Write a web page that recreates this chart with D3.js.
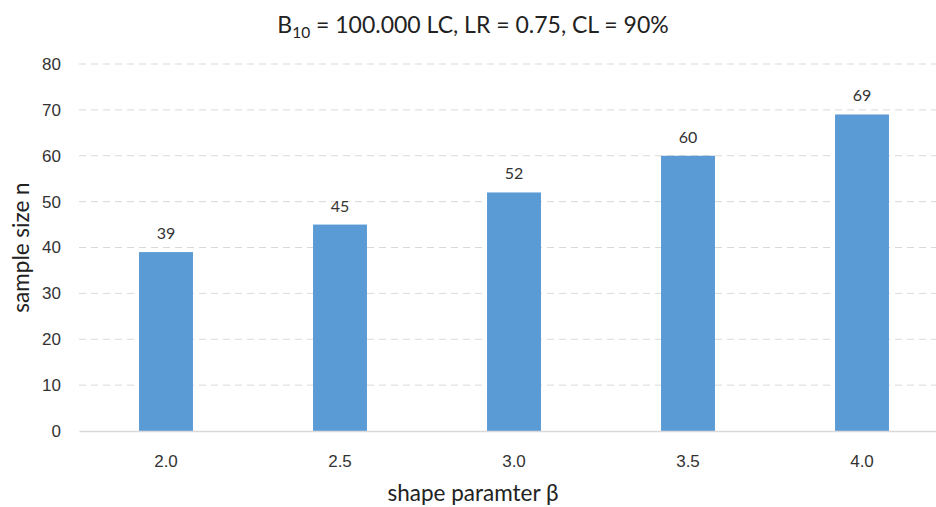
<!DOCTYPE html>
<html>
<head>
<meta charset="utf-8">
<script src="https://cdn.jsdelivr.net/npm/d3@7"></script>
<style>
  body { margin: 0; background: #fff; }
  svg { display: block; font-family: Lato, "Open Sans", sans-serif; }
  .axis text { fill: #333; }
</style>
</head>
<body>
<div id="chart"></div>
<script>
const categories = ["2.0", "2.5", "3.0", "3.5", "4.0"];
const sampleSize = [39, 45, 52, 60, 69];
const yTicks = [0, 10, 20, 30, 40, 50, 60, 70, 80];

const W = 936, H = 507;
const M = { top: 64, right: -13, bottom: 76, left: 79 };

const svg = d3.select("#chart").append("svg").attr("width", W).attr("height", H);

const x = d3.scaleBand().domain(categories)
  .range([M.left, W - M.right]).paddingInner(0.69).paddingOuter(0.345);
const y = d3.scaleLinear().domain([0, 80]).range([H - M.bottom, M.top]);

// gridlines
svg.append("g").selectAll("line").data(yTicks.filter((d) => d > 0)).join("line")
  .attr("x1", M.left).attr("x2", W).attr("y1", (d) => y(d)).attr("y2", (d) => y(d))
  .attr("stroke", "#d9d9d9").attr("stroke-width", 1).attr("stroke-dasharray", "7,5");

// bars
svg.append("g").selectAll("rect").data(sampleSize).join("rect")
  .attr("x", (d, i) => x(categories[i])).attr("y", (d) => y(d))
  .attr("width", x.bandwidth()).attr("height", (d) => y(0) - y(d))
  .attr("fill", "#5b9bd5");

// value labels
svg.append("g").selectAll("text").data(sampleSize).join("text")
  .attr("x", (d, i) => x(categories[i]) + x.bandwidth() / 2).attr("y", (d) => y(d) - 13)
  .attr("text-anchor", "middle").attr("fill", "#333").style("font-size", "16px")
  .text((d) => d);

// x axis
const gx = svg.append("g").attr("class", "axis").attr("transform", `translate(0,${y(0)})`)
  .call(d3.axisBottom(x).tickSize(0).tickPadding(24));
gx.select(".domain").attr("stroke", "#d9d9d9").attr("stroke-width", 1.3);
gx.selectAll("text").style("font-size", "17px");

// y axis
const gy = svg.append("g").attr("class", "axis").attr("transform", `translate(${M.left},0)`)
  .call(d3.axisLeft(y).tickValues(yTicks).tickSize(0).tickPadding(18));
gy.select(".domain").remove();
gy.selectAll("text").style("font-size", "17px");

// title
const title = svg.append("text").attr("x", 473).attr("y", 33).attr("text-anchor", "middle")
  .attr("fill", "#222").style("font-size", "23px");
title.append("tspan").text("B");
title.append("tspan").attr("dy", 5).style("font-size", "15.5px").text("10");
title.append("tspan").attr("dy", -5).text(" = 100.000 LC, LR = 0.75, CL = 90%");

// axis titles
svg.append("text").attr("x", 473).attr("y", 501).attr("text-anchor", "middle")
  .attr("fill", "#222").style("font-size", "22.5px").text("shape paramter β");
svg.append("text").attr("transform", `translate(29,${(y(0) + y(80)) / 2}) rotate(-90)`)
  .attr("text-anchor", "middle").attr("fill", "#222").style("font-size", "22.5px")
  .text("sample size n");
</script>
</body>
</html>
